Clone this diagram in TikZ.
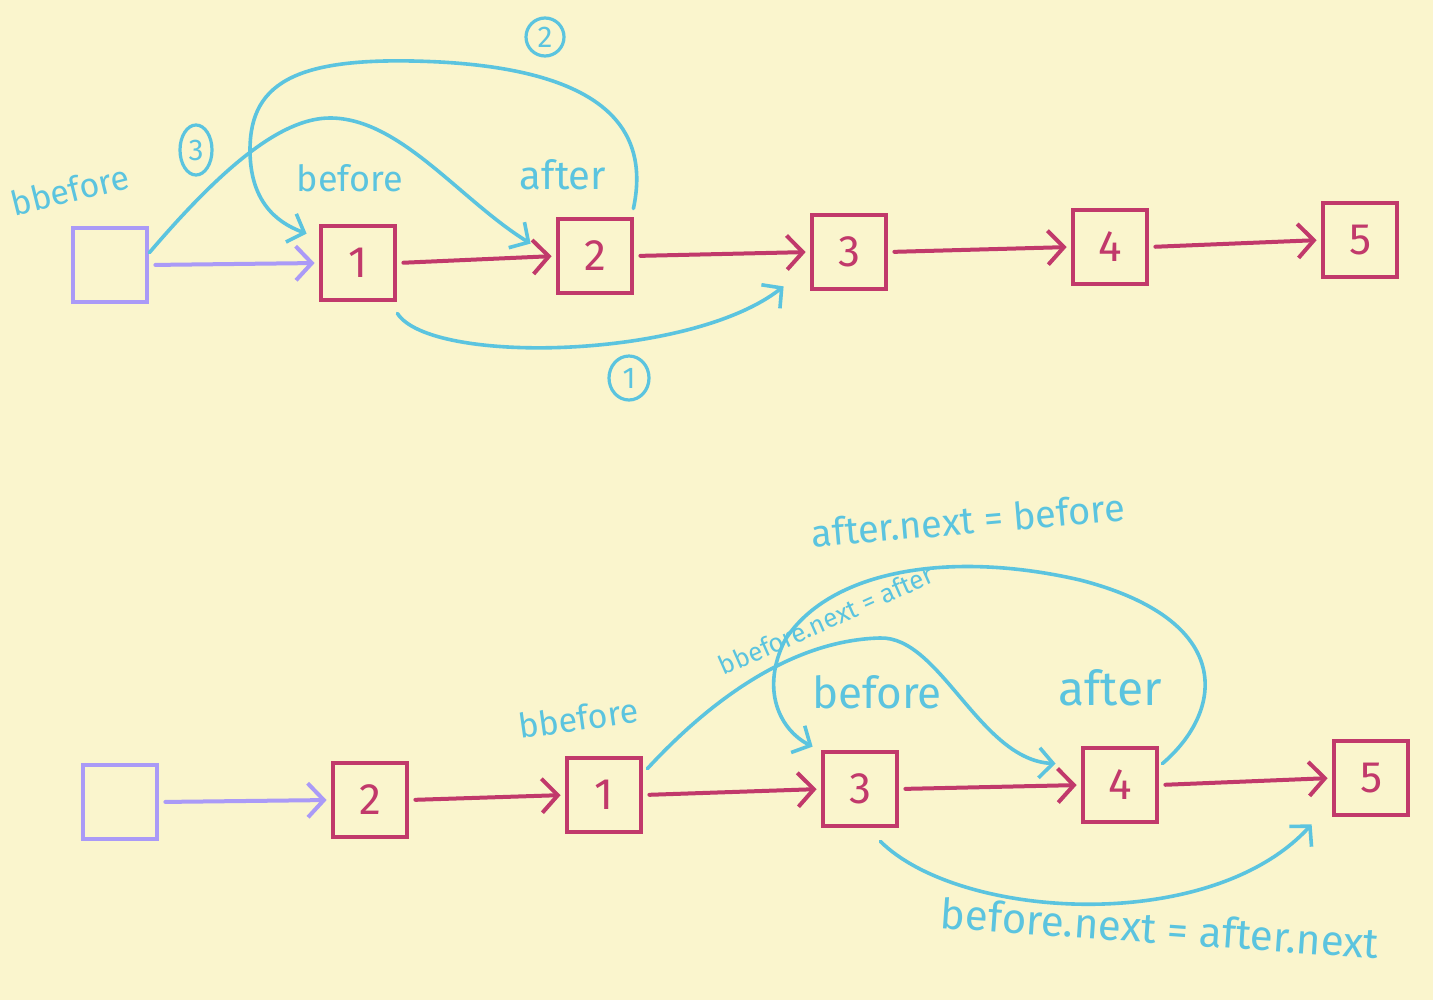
\documentclass[tikz,border=0pt]{standalone}
\usepackage{fontspec}
\setmainfont{Fira Sans}
\usetikzlibrary{arrows.meta,shapes.geometric}
\definecolor{bg}{HTML}{FAF5CD}
\definecolor{rd}{HTML}{C1396B}
\definecolor{cy}{HTML}{5BC4DF}
\definecolor{pu}{HTML}{AA9AF7}
\tikzset{
  box/.style={draw=rd, line width=2.4pt, line cap=round, minimum width=37pt, minimum height=37pt, inner sep=0pt, text=rd, font=\fontsize{22}{22}\selectfont},
  pbox/.style={box, draw=pu},
  link/.style={draw=rd, line width=2pt, line cap=round, -{Straight Barb[length=8pt,width=17pt]}, shorten <=3pt, shorten >=2pt},
  plink/.style={link, draw=pu},
  curve/.style={draw=cy, line width=1.8pt, line cap=round, -{Straight Barb[length=7pt,width=15pt]}},
  lbl/.style={text=cy, inner sep=0pt, font=\fontsize{#1}{#1}\selectfont},
  lbl/.default=18,
  circ/.style={draw=cy, line width=1.6pt, text=cy, inner sep=0pt, font=\fontsize{15}{15}\selectfont}
}
\begin{document}
\begin{tikzpicture}[x=0.5pt,y=-0.5pt]
\fill[bg] (0,0) rectangle (1433,1000);
\useasboundingbox (0,0) rectangle (1433,1000);

% ---------- top row ----------
\node[pbox] (tb) at (110,265) {};
\node[box] (t1) at (358,263) {1};
\node[box] (t2) at (595,256) {2};
\node[box] (t3) at (849,252) {3};
\node[box] (t4) at (1110,247) {4};
\node[box] (t5) at (1360,240) {5};

\draw[plink] (tb.east) -- (t1.west);
\draw[link] (t1.east) -- (t2.west);
\draw[link] (t2.east) -- (t3.west);
\draw[link] (t3.east) -- (t4.west);
\draw[link] (t4.east) -- (t5.west);

% curve 1
\draw[curve] ([shift={(0,11)}]t1.south east) .. controls (430,365) and (690,360) .. ([shift={(-26,-5)}]t3.south west);
% curve 2
\draw[curve] ([shift={(-1,-8)}]t2.north east) .. controls (648,140) and (620,72) .. (440,62)
   .. controls (300,55) and (250,80) .. (250,150)
   .. controls (250,200) and (275,222) .. ([shift={(-12,10)}]t1.north west);
% curve 3
\draw[curve] ([shift={(0,27)}]tb.north east) .. controls (220,170) and (280,118) .. (330,118)
   .. controls (400,118) and (460,200) .. ([shift={(-25,27)}]t2.north west);

\node[lbl=17, rotate=14] (tlbb) at (70,190) {bbefore};
\node[lbl=18] (tlb) at (350,178) {before};
\node[lbl=20] (tla) at (563,175) {after};
\node[circ, ellipse, minimum width=16pt, minimum height=25pt] (c3) at (196,150) {3};
\node[circ, circle, minimum size=19pt] (c2) at (545,37) {2};
\node[circ, ellipse, minimum width=20pt, minimum height=22pt] (c1) at (629,378) {1};

% ---------- bottom row ----------
\node[pbox] (bb) at (120,802) {};
\node[box] (b2) at (370,800) {2};
\node[box] (b1) at (604,795) {1};
\node[box] (b3) at (860,789) {3};
\node[box] (b4) at (1120,785) {4};
\node[box] (b5) at (1371,778) {5};

\draw[plink] (bb.east) -- (b2.west);
\draw[link] (b2.east) -- (b1.west);
\draw[link] (b1.east) -- (b3.west);
\draw[link] (b3.east) -- (b4.west);
\draw[link] (b4.east) -- (b5.west);

% bbefore.next = after
\draw[curve] ([shift={(4,13)}]b1.north east) .. controls (720,690) and (800,640) .. (880,638)
   .. controls (940,636) and (980,760) .. ([shift={(-25,18)}]b4.north west);
% after.next = before
\draw[curve] ([shift={(3,18)}]b4.north east) .. controls (1225,710) and (1235,620) .. (1080,580)
   .. controls (950,550) and (830,570) .. (785,640)
   .. controls (760,690) and (780,730) .. ([shift={(-8,-3)}]b3.north west);
% before.next = after.next
\draw[curve] ([shift={(-19,13)}]b3.south east) .. controls (960,920) and (1210,935) .. ([shift={(-20,7)}]b5.south west);

\node[lbl=17, rotate=8] (blbb) at (578,718) {bbefore};
\node[lbl=22] (blb) at (877,692) {before};
\node[lbl=24] (bla) at (1110,688) {after};
\node[lbl=19, rotate=5] (lan) at (968,520) {after.next = before};
\node[lbl=13, rotate=24] (lbn) at (826,620) {bbefore.next = after};
\node[lbl=21, rotate=-4] (lbna) at (1160,928) {before.next = after.next};
\end{tikzpicture}
\end{document}
